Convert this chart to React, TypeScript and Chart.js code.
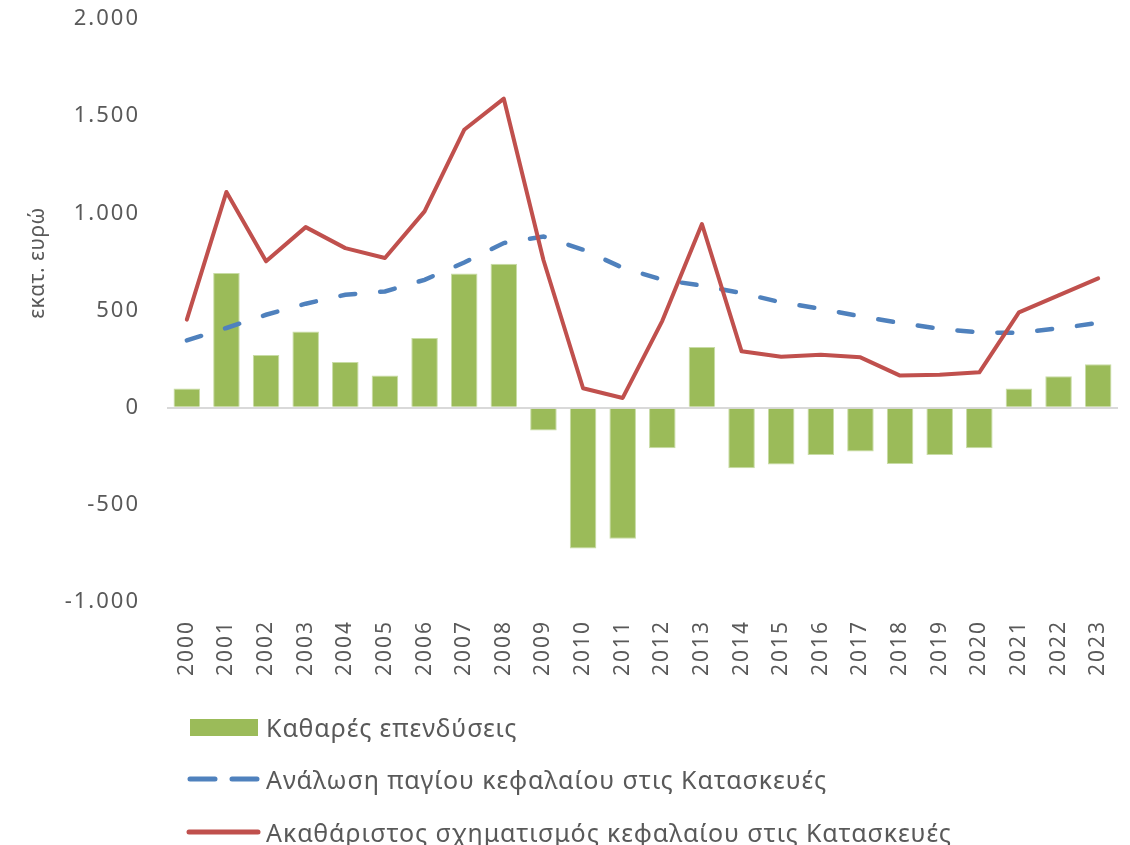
import React, { useEffect, useRef } from "react";
import { Chart, registerables } from "chart.js";

Chart.register(...registerables);

const years = ["2000","2001","2002","2003","2004","2005","2006","2007","2008","2009","2010","2011","2012","2013","2014","2015","2016","2017","2018","2019","2020","2021","2022","2023"];
const netInvestment = [98, 693, 271, 392, 235, 166, 358, 691, 741, -118, -725, -674, -209, 312, -312, -293, -243, -226, -290, -243, -209, 98, 162, 224];
const depreciation = [346, 410, 478, 535, 581, 598, 658, 747, 847, 881, 813, 720, 658, 628, 590, 542, 509, 470, 436, 406, 387, 385, 408, 436];
const grossFormation = [453, 1110, 753, 929, 821, 770, 1010, 1430, 1590, 760, 100, 50, 447, 945, 290, 262, 272, 259, 165, 170, 182, 490, 578, 665];

const seriesNames = [
  "Καθαρές επενδύσεις",
  "Ανάλωση παγίου κεφαλαίου στις Κατασκευές",
  "Ακαθάριστος σχηματισμός κεφαλαίου στις Κατασκευές",
];
const yTitle = "εκατ. ευρώ";

const GREEN = "#9BBB59";
const BLUE = "#4F81BD";
const RED = "#C0504D";
const TEXT = "#595959";
const FONT = "'Noto Sans', 'DejaVu Sans', sans-serif";

const fmt = (v: number) => String(v).replace(/\B(?=(\d{3})+(?!\d))/g, ".");

const spacingPlugin = {
  id: "spacingPlugin",
  beforeInit(chart: any) {
    chart.ctx.letterSpacing = "2px";
  },
  beforeUpdate(chart: any) {
    chart.ctx.letterSpacing = "2px";
  },
};

const yTitlePlugin = {
  id: "yTitlePlugin",
  afterDraw(chart: any) {
    const ctx = chart.ctx;
    ctx.save();
    ctx.letterSpacing = "0.5px";
    ctx.translate(38, 263);
    ctx.rotate(-Math.PI / 2);
    ctx.fillStyle = TEXT;
    ctx.font = `21px ${FONT}`;
    ctx.textAlign = "center";
    ctx.textBaseline = "middle";
    ctx.fillText(yTitle, 0, 0);
    ctx.restore();
  },
};

export default function App() {
  const ref = useRef<HTMLCanvasElement | null>(null);

  useEffect(() => {
    if (!ref.current) return;
    const chart = new Chart(ref.current, {
      type: "bar",
      data: {
        labels: years,
        datasets: [
          {
            type: "line",
            label: seriesNames[2],
            data: grossFormation,
            borderColor: RED,
            borderWidth: 4,
            pointRadius: 0,
            tension: 0,
            borderCapStyle: "round",
            borderJoinStyle: "round",
            order: 0,
          } as any,
          {
            type: "line",
            label: seriesNames[1],
            data: depreciation,
            borderColor: BLUE,
            borderWidth: 4.5,
            borderDash: [15, 25],
            borderCapStyle: "round",
            pointRadius: 0,
            tension: 0,
            order: 1,
          } as any,
          {
            type: "bar",
            label: seriesNames[0],
            data: netInvestment,
            backgroundColor: GREEN,
            borderColor: "#c8dca5",
            borderWidth: 1,
            categoryPercentage: 1,
            barPercentage: 0.67,
            order: 2,
          } as any,
        ],
      },
      options: {
        animation: false,
        responsive: false,
        maintainAspectRatio: false,
        layout: { padding: { top: 19, right: 12, bottom: 143, left: 0 } },
        plugins: {
          legend: { display: false },
          tooltip: { enabled: false },
          title: { display: false },
        },
        scales: {
          x: {
            grid: { display: false, drawTicks: false },
            border: { display: false },
            ticks: {
              color: TEXT,
              font: { family: FONT, size: 21 },
              maxRotation: 90,
              minRotation: 90,
              padding: 18,
              autoSkip: false,
            },
            afterFit(scale: any) {
              scale.height = 100;
              scale.paddingLeft = 0;
              scale.paddingRight = 0;
            },
          },
          y: {
            min: -1000,
            max: 2000,
            border: { display: false },
            grid: {
              drawTicks: false,
              lineWidth: 2,
              color: (ctx: any) => (ctx.tick && ctx.tick.value === 0 ? "#D9D9D9" : "rgba(0,0,0,0)"),
            },
            ticks: {
              stepSize: 500,
              color: TEXT,
              padding: 27,
              font: { family: FONT, size: 22 },
              callback: (v: any) => fmt(Number(v)),
            },
            afterFit(scale: any) {
              scale.width = 167;
              scale.paddingTop = 0;
              scale.paddingBottom = 0;
            },
          },
        },
      },
      plugins: [spacingPlugin, yTitlePlugin],
    });
    return () => chart.destroy();
  }, []);

  const legendText: React.CSSProperties = {
    position: "absolute",
    left: 266,
    fontFamily: FONT,
    fontSize: 25,
    letterSpacing: "0.9px",
    color: TEXT,
    lineHeight: "30px",
    whiteSpace: "nowrap",
  };

  return (
    <div style={{ position: "absolute", left: 0, top: 0, width: 1130, height: 845, background: "#fff", overflow: "hidden" }}>
      <canvas ref={ref} width={1130} height={845} style={{ position: "absolute", left: 0, top: 0, width: 1130, height: 845 }} />
      <div style={{ position: "absolute", left: 190, top: 719, width: 68, height: 17, background: GREEN }} />
      <div style={{ ...legendText, top: 712 }}>{seriesNames[0]}</div>
      <svg style={{ position: "absolute", left: 180, top: 769 }} width={90} height={20}>
        <line x1={10} y1={10} x2={80} y2={10} stroke={BLUE} strokeWidth={5} strokeLinecap="round" strokeDasharray="25 17" />
      </svg>
      <div style={{ ...legendText, top: 764 }}>{seriesNames[1]}</div>
      <svg style={{ position: "absolute", left: 180, top: 822 }} width={90} height={20}>
        <line x1={9} y1={10} x2={78} y2={10} stroke={RED} strokeWidth={5} strokeLinecap="round" />
      </svg>
      <div style={{ ...legendText, top: 817 }}>{seriesNames[2]}</div>
    </div>
  );
}
